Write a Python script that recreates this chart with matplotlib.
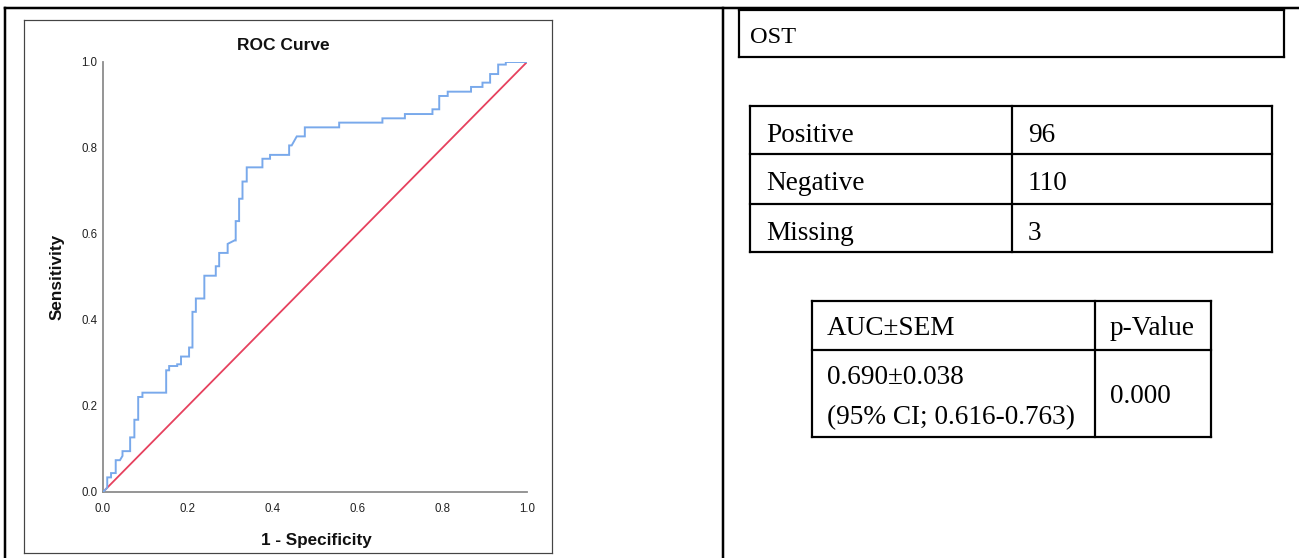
import matplotlib
matplotlib.use("Agg")
import matplotlib.pyplot as plt

# ---------------- data ----------------
fpr = [0.000, 0.010, 0.010, 0.019, 0.019, 0.030, 0.030, 0.040, 0.046, 0.046,
       0.064, 0.064, 0.074, 0.074, 0.083, 0.083, 0.093, 0.093, 0.149, 0.149,
       0.156, 0.156, 0.175, 0.175, 0.184, 0.184, 0.203, 0.203, 0.211, 0.211,
       0.219, 0.219, 0.239, 0.239, 0.266, 0.266, 0.274, 0.274, 0.294, 0.294,
       0.310, 0.313, 0.313, 0.321, 0.321, 0.329, 0.329, 0.339, 0.339, 0.376,
       0.376, 0.394, 0.394, 0.439, 0.439, 0.445, 0.457, 0.476, 0.476, 0.557,
       0.557, 0.659, 0.659, 0.712, 0.712, 0.777, 0.777, 0.793, 0.793, 0.813,
       0.813, 0.868, 0.868, 0.895, 0.895, 0.913, 0.913, 0.932, 0.932, 0.950,
       0.950, 1.000]
tpr = [0.000, 0.010, 0.034, 0.034, 0.044, 0.044, 0.074, 0.074, 0.084, 0.095,
       0.095, 0.127, 0.127, 0.168, 0.168, 0.221, 0.221, 0.231, 0.231, 0.283,
       0.283, 0.293, 0.293, 0.297, 0.297, 0.315, 0.315, 0.336, 0.336, 0.419,
       0.419, 0.450, 0.450, 0.503, 0.503, 0.525, 0.525, 0.556, 0.556, 0.577,
       0.585, 0.585, 0.630, 0.630, 0.682, 0.682, 0.722, 0.722, 0.755, 0.755,
       0.775, 0.775, 0.784, 0.784, 0.806, 0.806, 0.827, 0.827, 0.848, 0.848,
       0.859, 0.859, 0.869, 0.869, 0.879, 0.879, 0.890, 0.890, 0.921, 0.921,
       0.931, 0.931, 0.942, 0.942, 0.952, 0.952, 0.972, 0.972, 0.994, 0.994,
       1.000, 1.000]
ref_x = [0.0, 1.0]
ref_y = [0.0, 1.0]
tick_vals = [0.0, 0.2, 0.4, 0.6, 0.8, 1.0]
tick_labels = ["0.0", "0.2", "0.4", "0.6", "0.8", "1.0"]

chart_title = "ROC Curve"
x_label = "1 - Specificity"
y_label = "Sensitivity"

header_text = "OST"
count_labels = ["Positive", "Negative", "Missing"]
count_values = ["96", "110", "3"]
auc_headers = ["AUC±SEM", "p-Value"]
auc_value = "0.690±0.038"
auc_ci = "(95% CI; 0.616-0.763)"
p_value = "0.000"

# ---------------- figure ----------------
W, H = 1299, 558
fig = plt.figure(figsize=(W / 100, H / 100), dpi=100)
fig.patch.set_facecolor("white")

ov = fig.add_axes([0, 0, 1, 1])
ov.set_xlim(0, W)
ov.set_ylim(H, 0)
ov.axis("off")

SANS = "Liberation Sans"
SERIF = "Liberation Serif"
PX = 0.72  # points per pixel at dpi 100


def line(x0, y0, x1, y1, lw_px, color="black"):
    ov.plot([x0, x1], [y0, y1], color=color, lw=lw_px * PX,
            solid_capstyle="projecting")


def rect(x0, y0, x1, y1, lw_px, color="black"):
    line(x0, y0, x1, y0, lw_px, color)
    line(x1, y0, x1, y1, lw_px, color)
    line(x1, y1, x0, y1, lw_px, color)
    line(x0, y1, x0, y0, lw_px, color)


# outer document table
line(5, 8, W + 5, 8, 2.5)
line(5, 8, 5, H + 5, 2.5)
line(723, 8, 723, H + 5, 2.5)

# chart frame
rect(24, 20, 552, 553, 1.2, "#444444")

# chart axes
x_left, x_right, y_top, y_bot = 103, 527, 62, 492
ax = fig.add_axes([x_left / W, (H - y_bot) / H, (x_right - x_left) / W,
                   (y_bot - y_top) / H])
ax.set_facecolor("none")
ax.plot(fpr, tpr, color="#79a9eb", lw=1.4, solid_joinstyle="miter", zorder=3)
ax.plot(ref_x, ref_y, color="#e6415e", lw=1.3, zorder=2)
ax.set_xlim(0, 1)
ax.set_ylim(0, 1)
for s in ["top", "right"]:
    ax.spines[s].set_visible(False)
for s in ["left", "bottom"]:
    ax.spines[s].set_color("#8c8c8c")
    ax.spines[s].set_linewidth(1.3)
ax.set_xticks(tick_vals)
ax.set_xticklabels(tick_labels)
ax.set_yticks(tick_vals)
ax.set_yticklabels(tick_labels)
ax.tick_params(axis="both", length=0, labelsize=8.3, colors="#222222")
ax.tick_params(axis="x", pad=8)
ax.tick_params(axis="y", pad=4)
for lab in ax.get_xticklabels() + ax.get_yticklabels():
    lab.set_fontfamily(SANS)

ov.text(283, 45, chart_title, ha="center", va="center", fontsize=12.5,
        fontweight="bold", family=SANS, color="#111111")
ov.text(316, 540, x_label, ha="center", va="center", fontsize=12.3,
        fontweight="bold", family=SANS, color="#111111")
ov.text(57, 277, y_label, ha="center", va="center", rotation=90,
        fontsize=12.3, fontweight="bold", family=SANS, color="#111111")

# right side tables
FS = 19.6
rect(739, 10, 1284, 57, 2.2)
ov.text(750, 43, header_text, ha="left", va="baseline", fontsize=17.6,
        family=SERIF)

# counts table
rows = [106, 154, 204, 252]
rect(750, rows[0], 1272, rows[-1], 2.2)
for r in rows[1:-1]:
    line(750, r, 1272, r, 2.2)
line(1012, rows[0], 1012, rows[-1], 2.2)
for i, (lab, val) in enumerate(zip(count_labels, count_values)):
    base = rows[i] + 35.5
    ov.text(766, base, lab, ha="left", va="baseline", fontsize=FS, family=SERIF)
    ov.text(1028, base, val, ha="left", va="baseline", fontsize=FS, family=SERIF)

# AUC table
rect(812, 301, 1211, 437, 2.2)
line(812, 350, 1211, 350, 2.2)
line(1095, 301, 1095, 437, 2.2)
ov.text(827, 335, auc_headers[0], ha="left", va="baseline", fontsize=FS,
        family=SERIF)
ov.text(1110, 335, auc_headers[1], ha="left", va="baseline", fontsize=FS,
        family=SERIF)
ov.text(827, 384, auc_value, ha="left", va="baseline", fontsize=FS,
        family=SERIF)
ov.text(827, 424, auc_ci, ha="left", va="baseline", fontsize=FS,
        family=SERIF)
ov.text(1110, 403, p_value, ha="left", va="baseline", fontsize=FS,
        family=SERIF)

fig.savefig("out.png", dpi=100, facecolor="white")
